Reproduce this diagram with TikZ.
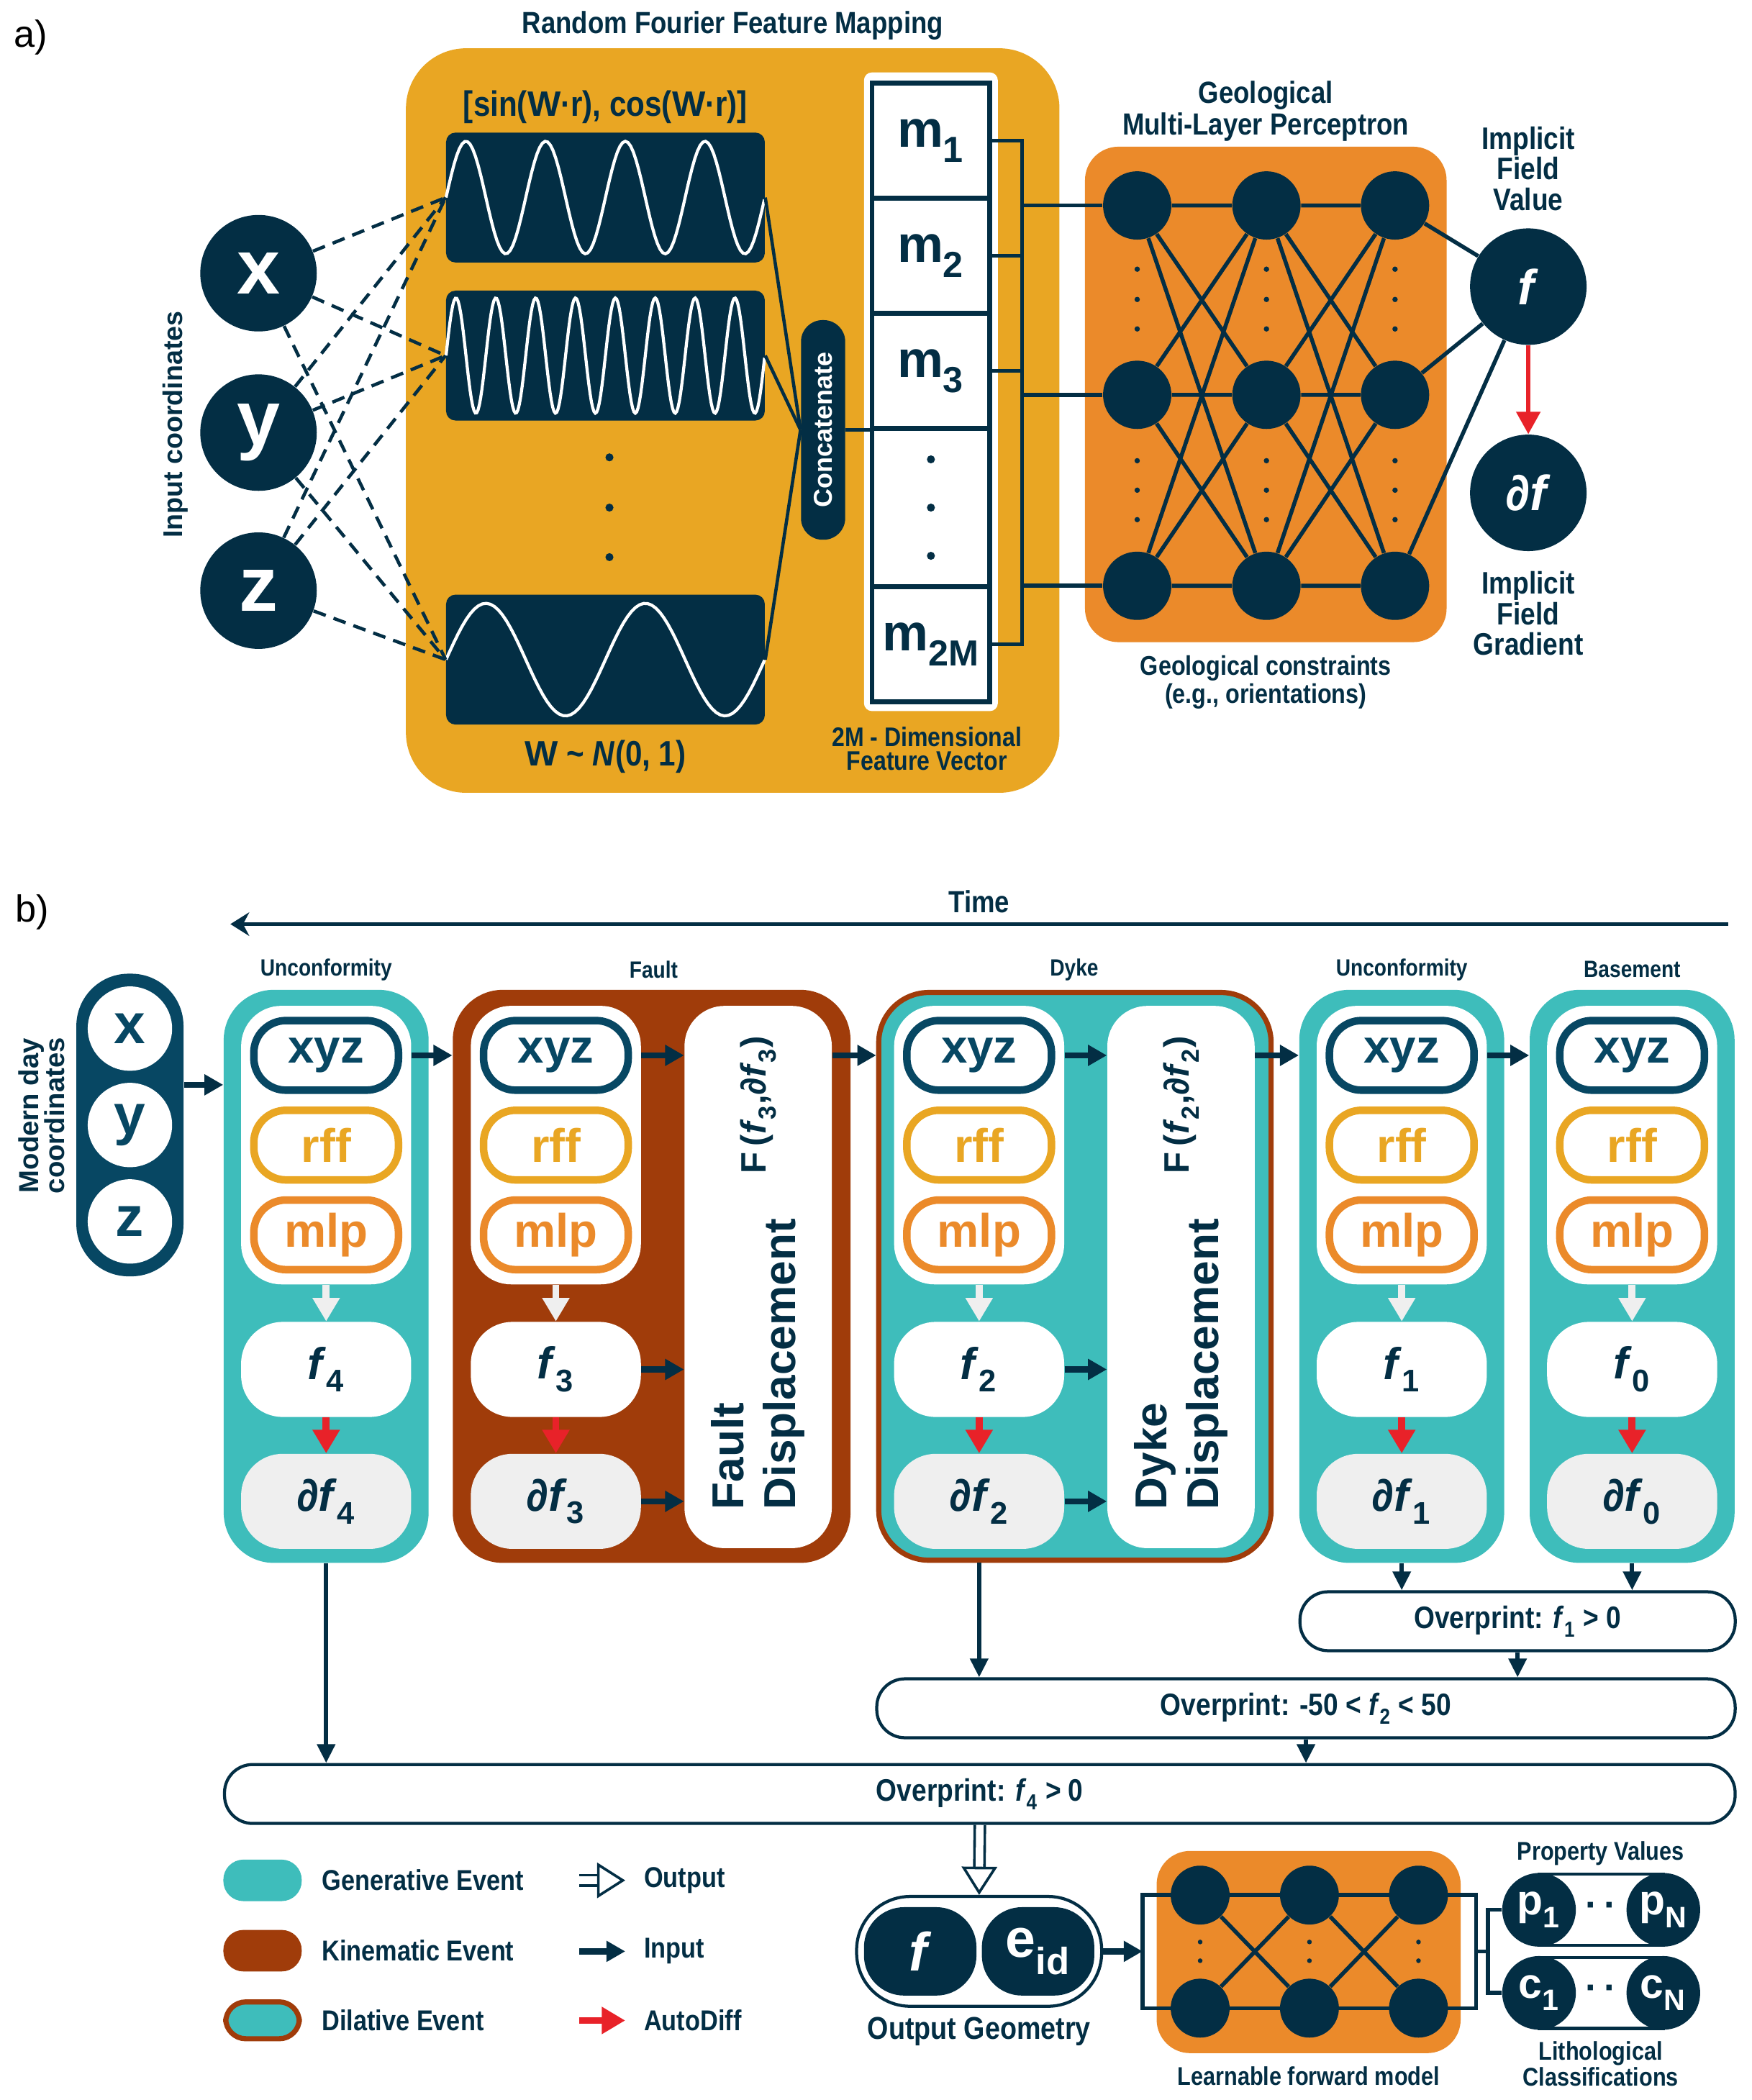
\documentclass[tikz,border=0pt]{standalone}
\usepackage{fontspec}
\usepackage{graphicx}
\setmainfont{Liberation Sans}
\newfontfamily\narrowfont{Liberation Sans}[FakeStretch=0.86]
\usetikzlibrary{arrows.meta,calc,positioning}

\definecolor{navy}{HTML}{032E44}
\definecolor{bnavy}{HTML}{074763}
\definecolor{rffyel}{HTML}{E9A623}
\definecolor{mlporg}{HTML}{EB8A2A}
\definecolor{gteal}{HTML}{3EBDBB}
\definecolor{kbrown}{HTML}{A03C0A}
\definecolor{adred}{HTML}{E82229}
\definecolor{lgrey}{HTML}{EFEFEF}

\newcommand{\bigW}{{\rmfamily\bfseries W}}
\newcommand{\lo}[1]{\textsubscript{\raisebox{-0.4ex}{#1}}}

\tikzset{
  lbl/.style={text=navy, align=center, inner sep=0pt, font=\narrowfont\bfseries\fontsize{13}{13.7}\selectfont},
  evlbl/.style={lbl, font=\narrowfont\bfseries\fontsize{10}{11}\selectfont},
  sidelbl/.style={text=navy, align=center, inner sep=0pt, rotate=90, font=\bfseries\fontsize{11.5}{12}\selectfont},
  panel/.style={inner sep=0pt, font=\fontsize{16}{16}\selectfont},
  % part a
  rffbox/.style={fill=rffyel, rounded corners=0.9cm, minimum width=9.76cm, minimum height=11.12cm, inner sep=0pt},
  wavebox/.style={fill=navy, rounded corners=4pt, minimum width=4.76cm, minimum height=1.94cm, inner sep=0pt},
  wave/.style={white, line width=1.3pt},
  incirc/.style={circle, fill=navy, minimum size=1.74cm, inner sep=0pt, text=white, font=\bfseries\fontsize{33}{33}\selectfont},
  concat/.style={fill=navy, rounded corners=0.32cm, minimum width=0.66cm, minimum height=3.28cm, inner sep=0pt, text=white, font=\bfseries\fontsize{11}{11}\selectfont},
  fvframe/.style={fill=white, rounded corners=0.12cm, minimum width=2cm, minimum height=9.54cm, inner sep=0pt},
  cell/.style={draw=navy, line width=2pt, fill=white, minimum width=1.76cm, minimum height=1.72cm, inner sep=0pt, outer sep=0pt, text=navy, font=\bfseries\fontsize{22}{22}\selectfont},
  mlpbox/.style={fill=mlporg, rounded corners=0.5cm, minimum width=5.4cm, minimum height=7.4cm, inner sep=0pt},
  neuron/.style={circle, fill=navy, minimum size=1.02cm, inner sep=0pt},
  outcirc/.style={circle, fill=navy, minimum size=1.74cm, inner sep=0pt, text=white, font=\bfseries\fontsize{21}{21}\selectfont},
  conn/.style={navy, line width=1.7pt},
  thinconn/.style={navy, line width=1.4pt},
  dashconn/.style={navy, line width=1.4pt, dash pattern=on 5.5pt off 3.5pt},
  redthin/.style={adred, line width=1.8pt, -{Triangle[length=9.5pt,width=10pt]}},
  % part b
  timearrow/.style={navy, line width=1.3pt, -{Stealth[length=8pt,width=10pt]}},
  mdcpill/.style={fill=bnavy, rounded corners=0.78cm, minimum width=1.6cm, minimum height=4.52cm, inner sep=0pt},
  mdccirc/.style={circle, fill=white, minimum size=1.26cm, inner sep=0pt, text=bnavy, font=\bfseries\fontsize{24}{24}\selectfont},
  event/.style={rounded corners=0.75cm, minimum height=8.56cm, inner sep=0pt},
  genev/.style={event, fill=gteal, minimum width=3.06cm},
  kinev/.style={event, fill=kbrown},
  dilev/.style={event, fill=gteal, draw=kbrown, line width=2.2pt, minimum height=8.48cm},
  innerbox/.style={fill=white, rounded corners=0.6cm, minimum width=2.54cm, minimum height=4.16cm, inner sep=0pt},
  pill/.style={rounded corners=0.48cm, fill=white, line width=3.2pt, minimum width=2.16cm, minimum height=1.04cm, inner sep=0pt, font=\bfseries\fontsize{20}{20}\selectfont},
  xyzpill/.style={pill, draw=bnavy, text=bnavy},
  rffpill/.style={pill, draw=rffyel, text=rffyel},
  mlppill/.style={pill, draw=mlporg, text=mlporg},
  fpill/.style={fill=white, rounded corners=0.62cm, minimum width=2.54cm, minimum height=1.42cm, inner sep=0pt, text=navy, font=\bfseries\fontsize{19}{19}\selectfont},
  dfpill/.style={fpill, fill=lgrey},
  disp/.style={fill=white, rounded corners=0.6cm, minimum width=2.2cm, minimum height=8.1cm, inner sep=0pt},
  disptxt/.style={rotate=90, align=left, inner sep=0pt, text=navy, font=\bfseries\fontsize{19}{22}\selectfont},
  ftxt/.style={rotate=90, inner sep=0pt, text=navy, font=\bfseries\fontsize{15}{15}\selectfont},
  ovbox/.style={draw=navy, line width=1.3pt, fill=white, rounded corners=0.42cm, minimum height=0.88cm, inner sep=0pt, text=navy, font=\narrowfont\bfseries\fontsize{13.2}{13.2}\selectfont},
  inarrow/.style={navy, line width=2.6pt, -{Triangle[length=8pt,width=8.5pt]}},
  downarrow/.style={navy, line width=1.8pt, -{Triangle[length=8pt,width=7.5pt]}},
  greyarrow/.style={lgrey, line width=3pt, -{Triangle[length=10pt,width=11pt]}},
  redarrow/.style={adred, line width=3pt, -{Triangle[length=10pt,width=11pt]}},
  outarrow/.style={navy, line width=1.1pt, double=white, double distance=3.2pt, -{Triangle[open, fill=white, length=12pt, width=15pt, line width=1.1pt]}},
  ogbox/.style={draw=navy, line width=1.3pt, fill=white, rounded corners=0.8cm, minimum width=3.66cm, minimum height=1.64cm, inner sep=0pt},
  ogball/.style={fill=navy, rounded corners=0.6cm, minimum width=1.68cm, minimum height=1.32cm, inner sep=0pt, text=white, font=\bfseries\fontsize{23}{23}\selectfont},
  fmbox/.style={fill=mlporg, rounded corners=0.5cm, minimum width=4.54cm, minimum height=3.02cm, inner sep=0pt},
  fmneuron/.style={circle, fill=navy, minimum size=0.88cm, inner sep=0pt},
  pvbar/.style={draw=navy, line width=1.3pt, fill=white, minimum width=1.85cm, minimum height=1.06cm, inner sep=0pt},
  pcirc/.style={circle, fill=navy, minimum size=1.1cm, inner sep=0pt, text=white, font=\bfseries\fontsize{18}{18}\selectfont},
  lgpill/.style={rounded corners=0.3cm, minimum width=1.17cm, minimum height=0.62cm, inner sep=0pt},
  lgtxt/.style={lbl, anchor=west, font=\narrowfont\bfseries\fontsize{12.2}{12.2}\selectfont}
}

\begin{document}
\begin{tikzpicture}[x=0.02cm, y=-0.02cm]
\useasboundingbox (0,0) rectangle (1308,1568);

% ---------- a) random Fourier features + MLP
\node[panel] (pa) at (23,28) {a)};
\node[lbl] (rfftitle) at (547,19) {Random Fourier Feature Mapping};
\node[rffbox] (rff) at (547,314) {};
\node[lbl, font=\narrowfont\bfseries\fontsize{15}{15}\selectfont] (sincos) at (452,80) {[sin(\bigW·r), cos(\bigW·r)]};
\node[wavebox] (w1) at (452,147.5) {};
\node[wavebox] (w2) at (452,265.5) {};
\node[wavebox] (w3) at (452,492.5) {};
\draw[wave] plot[domain=0:1, samples=120] ({333+238*\x},{147.5-42*sin(1440*\x)});
\draw[wave] plot[domain=0:1, samples=240] ({333+238*\x},{265.5-43*sin(2880*\x)});
\draw[wave] plot[domain=0:1, samples=80] ({333+238*\x},{492.5-42*sin(720*\x)});
\fill[navy] (455,341.5) circle (0.06cm) (455,379) circle (0.06cm) (455,416) circle (0.06cm);
\node[lbl, font=\narrowfont\bfseries\fontsize{15}{15}\selectfont] (wdist) at (452,565) {\bigW\ \textasciitilde\ \textit{N}(0, 1)};

\node[concat] (cat) at (614.5,321) {\rotatebox{90}{Concatenate}};
\draw[thinconn] (w1.east) -- (cat.west);
\draw[thinconn] (w2.east) -- (cat.west);
\draw[thinconn] (w3.east) -- (cat.west);

% feature vector
\node[fvframe] (fv) at (695,292.5) {};
\node[cell] (m1) at (695,105) {m\lo{1}};
\node[cell] (m2) at (695,191) {m\lo{2}};
\node[cell] (m3) at (695,277) {m\lo{3}};
\node[cell, minimum height=2.36cm] (mdots) at (695,379) {};
\node[cell] (m2M) at (695,481) {m\lo{2M}};
\fill[navy] (695,343) circle (0.06cm) (695,379) circle (0.06cm) (695,415) circle (0.06cm);
\node[lbl, font=\narrowfont\bfseries\fontsize{11.4}{10.3}\selectfont] (fvlbl) at (692,559) {2M - Dimensional\\Feature Vector};
\draw[thinconn] (cat.east) -- (cat.east -| m1.west);

% input coordinates
\node[sidelbl] (inlbl) at (131,317) {Input coordinates};
\node[incirc] (ix) at (193,204) {x};
\node[incirc] (iy) at (193,323) {y};
\node[incirc] (iz) at (193,441) {z};
\draw[dashconn] (ix) -- (w1.west); \draw[dashconn] (ix) -- (w2.west); \draw[dashconn] (ix) -- (w3.west);
\draw[dashconn] (iy) -- (w1.west); \draw[dashconn] (iy) -- (w2.west); \draw[dashconn] (iy) -- (w3.west);
\draw[dashconn] (iz) -- (w1.west); \draw[dashconn] (iz) -- (w2.west); \draw[dashconn] (iz) -- (w3.west);

% geological MLP
\node[lbl] (mlptitle) at (945,83) {Geological\\Multi-Layer Perceptron};
\node[mlpbox] (mlp) at (945,294.5) {};
\node[neuron] (h11) at (849,153.4) {};
\node[neuron] (h12) at (849,294.8) {};
\node[neuron] (h13) at (849,437.4) {};
\node[neuron] (h21) at (945.5,153.4) {};
\node[neuron] (h22) at (945.5,294.8) {};
\node[neuron] (h23) at (945.5,437.4) {};
\node[neuron] (h31) at (1041.5,153.4) {};
\node[neuron] (h32) at (1041.5,294.8) {};
\node[neuron] (h33) at (1041.5,437.4) {};
\draw[conn] (h11) -- (h21) (h11) -- (h22) (h11) -- (h23)
            (h12) -- (h21) (h12) -- (h22) (h12) -- (h23)
            (h13) -- (h21) (h13) -- (h22) (h13) -- (h23);
\draw[conn] (h21) -- (h31) (h21) -- (h32) (h21) -- (h33)
            (h22) -- (h31) (h22) -- (h32) (h22) -- (h33)
            (h23) -- (h31) (h23) -- (h32) (h23) -- (h33);
\fill[navy] (849,201) circle (0.04cm) (849,223.6) circle (0.04cm) (849,245.6) circle (0.04cm)
            (849,344) circle (0.04cm) (849,366) circle (0.04cm) (849,388) circle (0.04cm);
\fill[navy] (945.5,201) circle (0.04cm) (945.5,223.6) circle (0.04cm) (945.5,245.6) circle (0.04cm)
            (945.5,344) circle (0.04cm) (945.5,366) circle (0.04cm) (945.5,388) circle (0.04cm);
\fill[navy] (1041.5,201) circle (0.04cm) (1041.5,223.6) circle (0.04cm) (1041.5,245.6) circle (0.04cm)
            (1041.5,344) circle (0.04cm) (1041.5,366) circle (0.04cm) (1041.5,388) circle (0.04cm);
\node[lbl, font=\narrowfont\bfseries\fontsize{11.5}{12}\selectfont] (gclbl) at (945,509.5) {Geological constraints\\(e.g., orientations)};

% bracket from the feature vector into the MLP
\coordinate (brk) at (763,0);
\draw[conn] (m1.east) -- (m1.east -| brk) -- (m2M.east -| brk) -- (m2M.east);
\draw[conn] (m2.east) -- (m2.east -| brk);
\draw[conn] (m3.east) -- (m3.east -| brk);
\draw[conn] (h11 -| brk) -- (h11);
\draw[conn] (h12 -| brk) -- (h12);
\draw[conn] (h13 -| brk) -- (h13);

% implicit field
\node[lbl, font=\narrowfont\bfseries\fontsize{13.2}{13.1}\selectfont] (ifv) at (1141,126) {Implicit\\Field\\Value};
\node[outcirc] (fa) at (1141,214) {\textit{f}};
\node[outcirc] (dfa) at (1141,368) {\textit{∂f}};
\node[lbl, font=\narrowfont\bfseries\fontsize{13.2}{13.1}\selectfont] (ifg) at (1141,458) {Implicit\\Field\\Gradient};
\draw[conn] (h31) -- (fa);
\draw[conn] (h32) -- (fa);
\draw[conn] (h33) -- (fa);
\draw[redthin] (fa) -- (dfa);

% ---------- b) event chain
\node[panel] (pb) at (24,681) {b)};
\coordinate (tR) at (1290,690);
\coordinate (tL) at (172,690);
\draw[timearrow] (tR) -- (tL);
\node[lbl] (time) at (731,673) {Time};

\node[sidelbl, font=\bfseries\fontsize{11.7}{11}\selectfont] (mdclbl) at (31,833) {Modern day\\coordinates};
\node[mdcpill] (mdc) at (97,840) {};
\node[mdccirc] (mx) at (97,768) {x};
\node[mdccirc] (my) at (97,840) {y};
\node[mdccirc] (mz) at (97,912) {z};

\node[evlbl] (e1lbl) at (243.5,724) {Unconformity};
\node[evlbl] (e2lbl) at (488,724) {Fault};
\node[evlbl] (e3lbl) at (802,724) {Dyke};
\node[evlbl] (e4lbl) at (1046.5,724) {Unconformity};
\node[evlbl] (e5lbl) at (1218.5,724) {Basement};

\node[genev] (col1) at (243.5,953) {};
\node[kinev, minimum width=5.94cm] (col2) at (486.5,953) {};
\node[dilev, minimum width=5.86cm] (col3) at (802.5,953) {};
\node[genev] (col4) at (1046.5,953) {};
\node[genev] (col5) at (1218.5,953) {};

\node[innerbox] (in1) at (243.5,855) {};
\node[innerbox] (in2) at (415,855) {};
\node[innerbox] (in3) at (731,855) {};
\node[innerbox] (in4) at (1046.5,855) {};
\node[innerbox] (in5) at (1218.5,855) {};

\node[xyzpill] (xyz1) at (243.5,788) {xyz};
\node[rffpill] (rff1) at (243.5,855) {rff};
\node[mlppill] (mlp1) at (243.5,922) {mlp};
\node[xyzpill] (xyz2) at (415,788) {xyz};
\node[rffpill] (rff2) at (415,855) {rff};
\node[mlppill] (mlp2) at (415,922) {mlp};
\node[xyzpill] (xyz3) at (731,788) {xyz};
\node[rffpill] (rff3) at (731,855) {rff};
\node[mlppill] (mlp3) at (731,922) {mlp};
\node[xyzpill] (xyz4) at (1046.5,788) {xyz};
\node[rffpill] (rff4) at (1046.5,855) {rff};
\node[mlppill] (mlp4) at (1046.5,922) {mlp};
\node[xyzpill] (xyz5) at (1218.5,788) {xyz};
\node[rffpill] (rff5) at (1218.5,855) {rff};
\node[mlppill] (mlp5) at (1218.5,922) {mlp};

\node[fpill] (f4) at (243.5,1022.5) {\textit{f}\lo{4}};
\node[dfpill] (df4) at (243.5,1121) {\textit{∂f}\lo{4}};
\node[fpill] (f3) at (415,1022.5) {\textit{f}\lo{3}};
\node[dfpill] (df3) at (415,1121) {\textit{∂f}\lo{3}};
\node[fpill] (f2) at (731,1022.5) {\textit{f}\lo{2}};
\node[dfpill] (df2) at (731,1121) {\textit{∂f}\lo{2}};
\node[fpill] (f1) at (1046.5,1022.5) {\textit{f}\lo{1}};
\node[dfpill] (df1) at (1046.5,1121) {\textit{∂f}\lo{1}};
\node[fpill] (f0) at (1218.5,1022.5) {\textit{f}\lo{0}};
\node[dfpill] (df0) at (1218.5,1121) {\textit{∂f}\lo{0}};

\node[disp] (fd2) at (566,953.5) {};
\node[ftxt] (fd2f) at (566,825) {F\,(\textit{f}\lo{3},\textit{∂f}\lo{3})};
\node[disptxt] (fd2t) at (566,1018.5) {Fault\\Displacement};
\node[disp] (fd3) at (881.7,953.5) {};
\node[ftxt] (fd3f) at (881.7,825) {F\,(\textit{f}\lo{2},\textit{∂f}\lo{2})};
\node[disptxt] (fd3t) at (881.7,1018.5) {Dyke\\Displacement};

% inputs
\coordinate (mdcout) at ($(mdc.east)+(0,-30)$);
\draw[inarrow] (mdcout) -- (mdcout -| col1.west);
\draw[inarrow] (in1.east |- xyz1) -- (col2.west |- xyz1);
\draw[inarrow] (in2.east |- xyz2) -- (fd2.west |- xyz2);
\draw[inarrow] (f3.east) -- (f3.east -| fd2.west);
\draw[inarrow] (df3.east) -- (df3.east -| fd2.west);
\draw[inarrow] (fd2.east |- xyz2) -- (col3.west |- xyz2);
\draw[inarrow] (in3.east |- xyz3) -- (fd3.west |- xyz3);
\draw[inarrow] (f2.east) -- (f2.east -| fd3.west);
\draw[inarrow] (df2.east) -- (df2.east -| fd3.west);
\draw[inarrow] (fd3.east |- xyz3) -- (col4.west |- xyz3);
\draw[inarrow] (in4.east |- xyz4) -- (col5.west |- xyz4);

% outputs and autodiff
\draw[greyarrow] (in1.south) -- (f4.north);
\draw[greyarrow] (in2.south) -- (f3.north);
\draw[greyarrow] (in3.south) -- (f2.north);
\draw[greyarrow] (in4.south) -- (f1.north);
\draw[greyarrow] (in5.south) -- (f0.north);
\draw[redarrow] (f4.south) -- (df4.north);
\draw[redarrow] (f3.south) -- (df3.north);
\draw[redarrow] (f2.south) -- (df2.north);
\draw[redarrow] (f1.south) -- (df1.north);
\draw[redarrow] (f0.south) -- (df0.north);

% overprinting
\node[ovbox, minimum width=6.5cm] (ov1) at (1133,1210.5) {Overprint: \textit{f}\lo{1} > 0};
\node[ovbox, minimum width=12.82cm] (ov2) at (975,1275.5) {Overprint: -50 < \textit{f}\lo{2} < 50};
\node[ovbox, minimum width=22.56cm] (ov3) at (731.5,1339.5) {Overprint: \textit{f}\lo{4} > 0};
\draw[downarrow] (col4.south) -- (ov1.north -| col4.south);
\draw[downarrow] (col5.south) -- (ov1.north -| col5.south);
\draw[downarrow] (ov1.south) -- (ov2.north -| ov1.south);
\draw[downarrow] (col3.south -| in3) -- (ov2.north -| in3);
\draw[downarrow] (ov2.south) -- (ov3.north -| ov2.south);
\draw[downarrow] (col1.south) -- (ov3.north -| col1.south);

% output geometry
\node[ogbox] (og) at (731,1457) {};
\node[ogball] (ogf) at (687,1457) {\textit{f}};
\node[ogball] (oge) at (775,1457) {e\lo{id}};
\node[lbl, font=\narrowfont\bfseries\fontsize{13.4}{13.4}\selectfont] (oglbl) at (731,1517) {Output Geometry};
\draw[outarrow] (ov3.south) -- (og.north);

% learnable forward model
\node[fmbox] (fm) at (977,1457.5) {};
\node[fmneuron] (g11) at (896,1415) {};
\node[fmneuron] (g12) at (977.6,1415) {};
\node[fmneuron] (g13) at (1059,1415) {};
\node[fmneuron] (g21) at (896,1499.4) {};
\node[fmneuron] (g22) at (977.6,1499.4) {};
\node[fmneuron] (g23) at (1059,1499.4) {};
\coordinate (frL) at (853,1457);
\coordinate (frR) at (1102,1457);
\draw[conn] (g11 -| frL) -- (g13 -| frR) -- (g23 -| frR) -- (g21 -| frL) -- cycle;
\draw[conn] (g11) -- (g22) -- (g13);
\draw[conn] (g21) -- (g12) -- (g23);
\fill[navy] (896,1450) circle (0.035cm) (896,1464) circle (0.035cm)
            (977.6,1450) circle (0.035cm) (977.6,1464) circle (0.035cm)
            (1059,1450) circle (0.035cm) (1059,1464) circle (0.035cm);
\node[lbl, font=\narrowfont\bfseries\fontsize{10.9}{10.9}\selectfont] (fmlbl) at (977,1550) {Learnable forward model};
\draw[inarrow] (og.east) -- (og.east -| frL);

% properties and lithologies
\node[lbl, font=\narrowfont\bfseries\fontsize{10.9}{10.9}\selectfont] (pvlbl) at (1195,1384) {Property Values};
\node[pvbar] (pv) at (1195.4,1426) {};
\node[pcirc] (p1) at (1149,1426) {p\lo{1}};
\node[pcirc] (pN) at (1241.8,1426) {p\lo{N}};
\node[text=navy, inner sep=0pt, font=\bfseries\fontsize{16}{16}\selectfont] (pdots) at (1195.4,1426) {·\,·};
\node[pvbar] (cv) at (1195.4,1488) {};
\node[pcirc] (c1) at (1149,1488) {c\lo{1}};
\node[pcirc] (cN) at (1241.8,1488) {c\lo{N}};
\node[text=navy, inner sep=0pt, font=\bfseries\fontsize{16}{16}\selectfont] (cdots) at (1195.4,1488) {·\,·};
\node[lbl, font=\narrowfont\bfseries\fontsize{10.9}{10.8}\selectfont] (cvlbl) at (1195,1541) {Lithological\\Classifications};
\coordinate (brR) at (1111,1457);
\draw[conn] (frR) -- (brR);
\draw[conn] (p1.west) -- (p1.west -| brR) -- (c1.west -| brR) -- (c1.west);

% legend
\node[lgpill, fill=gteal] (lg1) at (196,1404) {};
\node[lgtxt] (lg1t) at (240,1404) {Generative Event};
\node[lgpill, fill=kbrown] (lg2) at (196,1456.5) {};
\node[lgtxt] (lg2t) at (240,1456.5) {Kinematic Event};
\node[lgpill, fill=gteal, draw=kbrown, line width=2.2pt, minimum width=1.1cm, minimum height=0.55cm] (lg3) at (196,1508.5) {};
\node[lgtxt] (lg3t) at (240,1508.5) {Dilative Event};
\coordinate (lo1) at (432.5,1404);
\coordinate (lo2) at (466.8,1404);
\draw[outarrow] (lo1) -- (lo2);
\node[lgtxt] (lo2t) at (480.5,1404) {Output};
\coordinate (li1) at (432.5,1457);
\coordinate (li2) at (466.8,1457);
\draw[inarrow] (li1) -- (li2);
\node[lgtxt] (li2t) at (480.5,1457) {Input};
\coordinate (la1) at (432.5,1508.6);
\coordinate (la2) at (466.8,1508.6);
\draw[redarrow] (la1) -- (la2);
\node[lgtxt] (la2t) at (480.5,1508.6) {AutoDiff};
\end{tikzpicture}
\end{document}
